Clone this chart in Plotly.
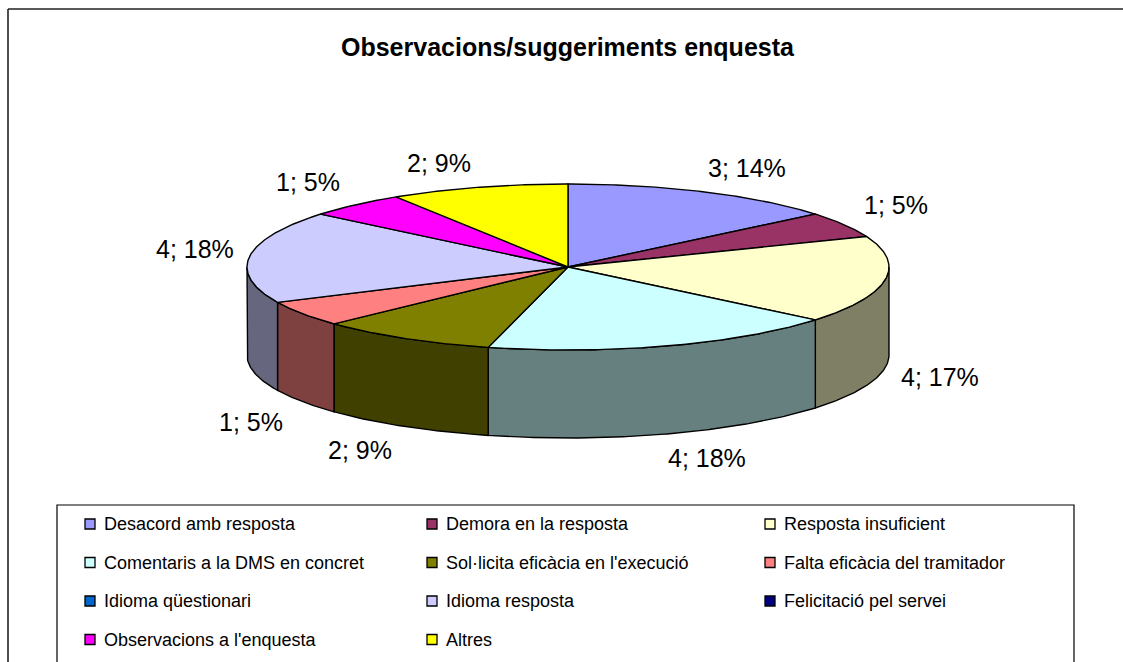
import numpy as np
import plotly.graph_objects as go

# Survey responses per category (count, share in %)
categories = [
    "Desacord amb resposta",
    "Demora en la resposta",
    "Resposta insuficient",
    "Comentaris a la DMS en concret",
    "Sol·licita eficàcia en l'execució",
    "Falta eficàcia del tramitador",
    "Idioma qüestionari",
    "Idioma resposta",
    "Felicitació pel servei",
    "Observacions a l'enquesta",
    "Altres",
]
counts = [3, 1, 4, 4, 2, 1, 0, 4, 0, 1, 2]
percents = [14, 5, 17, 18, 9, 5, 0, 18, 0, 5, 9]
colors = ["#9999FF", "#993366", "#FFFFCC", "#CCFFFF", "#808000", "#FF8080",
          "#0066CC", "#CCCCFF", "#000080", "#FF00FF", "#FFFF00"]
title = "Observacions/suggeriments enquesta"

# Geometry of the tilted pie (pixel space)
CX, CY = 568, 267
RX, RY = 321, 83
DEPTH = 88
FONT = "Arial, Liberation Sans, sans-serif"


def darken(hex_color, f=0.5):
    h = hex_color.lstrip("#")
    r, g, b = (int(h[i:i + 2], 16) for i in (0, 2, 4))
    return "#{:02X}{:02X}{:02X}".format(int(r * f), int(g * f), int(b * f))


def arc(a0, a1, dy=0.0, n=None):
    if n is None:
        n = max(4, int(abs(a1 - a0) * 2))
    t = np.radians(np.linspace(a0, a1, n))
    return CX + RX * np.sin(t), CY - RY * np.cos(t) + dy


fig = go.Figure()

total = float(sum(percents))
starts, ends = [], []
acc = 0.0
for p in percents:
    a0 = acc / total * 360.0
    acc += p
    starts.append(a0)
    ends.append(acc / total * 360.0)

# Outer walls, visible on the front half (90..270 deg clockwise from top)
for i, p in enumerate(percents):
    if p <= 0:
        continue
    w0, w1 = max(starts[i], 90), min(ends[i], 270)
    if w1 <= w0:
        continue
    tx, ty = arc(w0, w1)
    bx, by = arc(w1, w0, dy=DEPTH)
    fig.add_trace(go.Scatter(
        x=np.concatenate([tx, bx, tx[:1]]), y=np.concatenate([ty, by, ty[:1]]),
        mode="lines", fill="toself", fillcolor=darken(colors[i]),
        line=dict(color="black", width=1.4), hoverinfo="skip", showlegend=False))

# Top faces
for i, p in enumerate(percents):
    if p <= 0:
        continue
    tx, ty = arc(starts[i], ends[i])
    fig.add_trace(go.Scatter(
        x=np.concatenate([[CX], tx, [CX]]), y=np.concatenate([[CY], ty, [CY]]),
        mode="lines", fill="toself", fillcolor=colors[i],
        line=dict(color="black", width=1.4), hoverinfo="skip", showlegend=False))

annotations = []
# Data labels "count; pct%"
for i, p in enumerate(percents):
    if p <= 0:
        continue
    mid = np.radians((starts[i] + ends[i]) / 2)
    s, c = np.sin(mid), np.cos(mid)
    lx = CX + (RX + 22) * s + 33 * np.sign(s)
    ly = CY - ((RY + 10) * c + 15 * np.clip(c / 0.3, -1, 1)) + (DEPTH if c < 0 else 0)
    annotations.append(dict(x=lx, y=ly, xref="x", yref="y", showarrow=False,
                            text=f"{counts[i]}; {p}%", xanchor="center", yanchor="middle",
                            font=dict(family=FONT, size=25, color="black")))

# Title
annotations.append(dict(x=CX, y=47, xref="x", yref="y", showarrow=False, text=f"<b>{title}</b>",
                        xanchor="center", yanchor="middle",
                        font=dict(family=FONT, size=25, color="black")))

shapes = [
    # chart frame
    dict(type="line", x0=8, x1=1130, y0=9, y1=9, xref="x", yref="y",
         line=dict(color="#222222", width=1.6)),
    dict(type="line", x0=8, x1=8, y0=9, y1=670, xref="x", yref="y",
         line=dict(color="#222222", width=1.6)),
    # legend box
    dict(type="rect", x0=57, x1=1074, y0=505, y1=700, xref="x", yref="y",
         line=dict(color="black", width=1.2), fillcolor="rgba(0,0,0,0)"),
]

# Legend entries in a 3-column grid
col_x = [85, 427, 765]
row_y0, row_dy = 524, 38.5
for i, name in enumerate(categories):
    r, col = divmod(i, 3)
    sx, sy = col_x[col], row_y0 + r * row_dy
    shapes.append(dict(type="rect", x0=sx, x1=sx + 10, y0=sy - 5, y1=sy + 5, xref="x", yref="y",
                       fillcolor=colors[i], line=dict(color="black", width=1.3)))
    annotations.append(dict(x=sx + 17, y=sy, xref="x", yref="y", showarrow=False, text=name,
                            xanchor="left", yanchor="middle",
                            font=dict(family=FONT, size=18, color="black")))

fig.update_layout(
    width=1123, height=662, margin=dict(l=0, r=0, t=0, b=0),
    paper_bgcolor="white", plot_bgcolor="white", showlegend=False,
    xaxis=dict(range=[0, 1123], visible=False, fixedrange=True),
    yaxis=dict(range=[662, 0], visible=False, fixedrange=True),
    annotations=annotations, shapes=shapes,
)

fig.write_html("out.html")
